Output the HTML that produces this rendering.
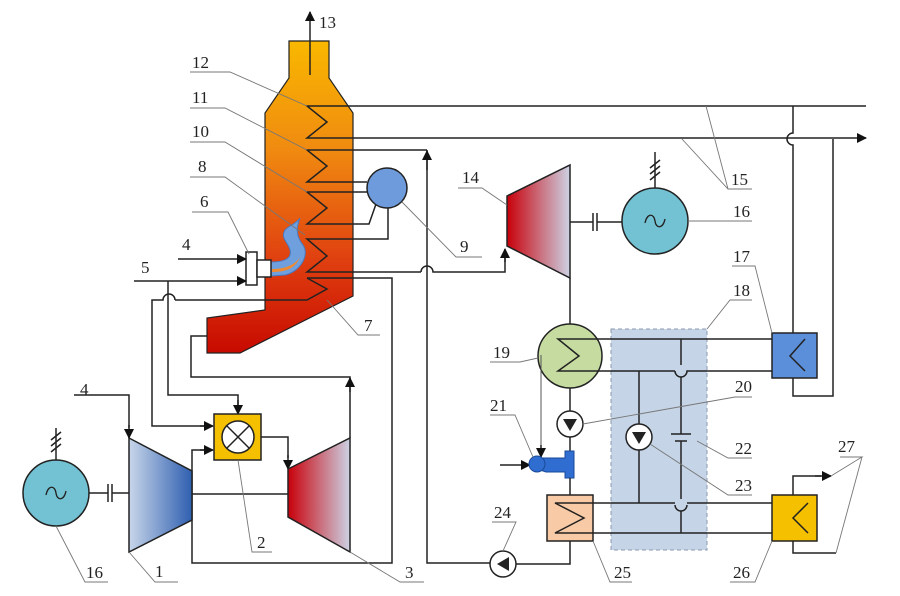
<!DOCTYPE html>
<html><head><meta charset="utf-8"><style>
html,body{margin:0;padding:0;background:#fff;}
svg{display:block;}
text{font-family:"Liberation Serif",serif;font-size:17px;fill:#222;}
</style></head><body>
<svg width="900" height="596" viewBox="0 0 900 596" xmlns="http://www.w3.org/2000/svg">
<defs>
<linearGradient id="boil" x1="0" y1="0" x2="0" y2="1">
<stop offset="0" stop-color="#f9b800"/><stop offset="0.35" stop-color="#f08a10"/><stop offset="0.7" stop-color="#e04010"/><stop offset="1" stop-color="#c80a00"/></linearGradient>
<linearGradient id="comp" x1="0" y1="0" x2="1" y2="0"><stop offset="0" stop-color="#c8d6ea"/><stop offset="1" stop-color="#2f5fb0"/></linearGradient>
<linearGradient id="turb" x1="0" y1="0" x2="1" y2="0"><stop offset="0" stop-color="#c8000a"/><stop offset="1" stop-color="#ccd2e4"/></linearGradient>
<marker id="ar" markerWidth="10" markerHeight="10" refX="9" refY="5" orient="auto" markerUnits="userSpaceOnUse"><path d="M0,0 L10,5 L0,10 z" fill="#111"/></marker>
</defs>
<g fill="none" stroke="#222" stroke-width="1.5">
<path d="M289,41 L329,41 L329,78 L353,113 L353,296 L240,353 L207,353 L207,318 L265,310 L265,113 L289,78 Z" fill="url(#boil)" stroke="#222" stroke-width="1.2"/>
<path d="M271,262 C285,262 292,258 290,250 C288,242 280,238 285,230 C288,226 296,224 300,218 C296,228 296,236 303,245 C310,255 300,272 285,275 L271,276 Z" fill="#6f9fdc" stroke="#4a78c0" stroke-width="1"/>
<path d="M272,269 C285,269 295,265 300,257 C296,267 288,272 272,272 Z" fill="#f08a30" stroke="none"/>
<rect x="246" y="252" width="11" height="33" fill="#fff"/>
<rect x="257" y="260" width="14" height="17" fill="#fff"/>
<line x1="310" y1="75" x2="310" y2="12" marker-end="url(#ar)"/>
<polyline points="866,106 307,106 327,122 307,138 856,138" />
<line x1="856" y1="138" x2="866" y2="138" marker-end="url(#ar)"/>
<polyline points="427,150 307,150 327,166 307,182 367,182"/>
<polyline points="367,192 307,192 327,208 307,224 369,224 376,204"/>
<polyline points="388,208 388,239 307,239 327,256 307,272 421,272"/>
<path d="M421,272 A6,6 0 0 1 433,272 L505,272 L505,252" />
<line x1="505" y1="262" x2="505" y2="249" marker-end="url(#ar)"/>
<polyline points="307,278 327,289 307,300 175,300"/>
<path d="M175,300 A6,6 0 0 0 163,300 L152,300 L152,426 L205,426"/>
<line x1="200" y1="426" x2="213" y2="426" marker-end="url(#ar)"/>
<polyline points="307,278 392,278 392,563 192,563 192,450 205,450"/>
<line x1="200" y1="450" x2="213" y2="450" marker-end="url(#ar)"/>
<circle cx="387" cy="188" r="20" fill="#6e9bdc"/>
<polyline points="427,150 427,563 490,563"/>
<line x1="427" y1="170" x2="427" y2="151" marker-end="url(#ar)"/>
<line x1="178" y1="259" x2="246" y2="259" marker-end="url(#ar)"/>
<line x1="134" y1="281" x2="246" y2="281" marker-end="url(#ar)"/>
<polyline points="168,281 168,395 238,395 238,405"/>
<line x1="238" y1="400" x2="238" y2="414" marker-end="url(#ar)"/>
<rect x="214" y="414" width="47" height="46" fill="#f5c000"/>
<circle cx="238" cy="437" r="16" fill="#fff"/>
<line x1="227" y1="426" x2="249" y2="448"/><line x1="249" y1="426" x2="227" y2="448"/>
<polyline points="261,437 288,437 288,458"/>
<line x1="288" y1="455" x2="288" y2="469" marker-end="url(#ar)"/>
<polygon points="129,438 192,471 192,520 129,552" fill="url(#comp)"/>
<polyline points="74,395 129,395 129,428"/>
<line x1="129" y1="425" x2="129" y2="438" marker-end="url(#ar)"/>
<polygon points="288,469 350,438 350,552 288,517" fill="url(#turb)"/>
<line x1="192" y1="494" x2="288" y2="494"/>
<polyline points="350,438 350,377 191,377 191,336 207,336"/>
<line x1="350" y1="392" x2="350" y2="378" marker-end="url(#ar)"/>
<circle cx="56" cy="493" r="33" fill="#73c2d3"/>
<path d="M46,495 C48,485 55,485 56,493 C57,501 64,501 66,491" stroke-width="1.3"/>
<line x1="56" y1="460" x2="56" y2="428"/>
<line x1="51" y1="446" x2="61" y2="438"/><line x1="51" y1="440" x2="61" y2="432"/><line x1="51" y1="452" x2="61" y2="444"/>
<line x1="89" y1="493" x2="108" y2="493"/><line x1="112" y1="493" x2="129" y2="493"/>
<line x1="108" y1="484" x2="108" y2="502"/><line x1="112" y1="484" x2="112" y2="502"/>
<polygon points="507,196 570,165 570,278 507,246" fill="url(#turb)"/>
<line x1="570" y1="222" x2="593" y2="222"/><line x1="597" y1="222" x2="622" y2="222"/>
<line x1="593" y1="213" x2="593" y2="231"/><line x1="597" y1="213" x2="597" y2="231"/>
<circle cx="655" cy="221" r="33" fill="#73c2d3"/>
<path d="M645,223 C647,213 654,213 655,221 C656,229 663,229 665,219" stroke-width="1.3"/>
<line x1="655" y1="188" x2="655" y2="152"/>
<line x1="650" y1="174" x2="660" y2="166"/><line x1="650" y1="168" x2="660" y2="160"/><line x1="650" y1="180" x2="660" y2="172"/>
<line x1="570" y1="278" x2="570" y2="324"/>
<rect x="611" y="329" width="96" height="221" fill="#c5d4e6" stroke="#8a9ab0" stroke-width="1" stroke-dasharray="4,3"/>
<circle cx="570" cy="356" r="32" fill="#c5dba0"/>
<polyline points="805,339 558,339 579,356 558,371 675,371"/>
<path d="M675,371 A6,6 0 0 0 687,371 L805,371"/>
<line x1="681" y1="339" x2="681" y2="365"/>
<line x1="681" y1="377" x2="681" y2="434"/>
<line x1="681" y1="441" x2="681" y2="499"/>
<line x1="681" y1="511" x2="681" y2="533"/>
<line x1="671" y1="434" x2="691" y2="434"/><line x1="675" y1="441" x2="687" y2="441"/>
<line x1="639" y1="371" x2="639" y2="503"/>
<circle cx="639" cy="437" r="13" fill="#fff"/>
<polygon points="632,432 646,432 639,444" fill="#222" stroke="none"/>
<rect x="772" y="333" width="45" height="45" fill="#5b8fd9"/>
<polyline points="805,339 790,356 805,371"/>
<path d="M793,106 L793,133 A6,6 0 0 0 793,145 L793,333"/>
<polyline points="793,378 793,396 833,396 833,139"/>
<line x1="570" y1="388" x2="570" y2="411"/>
<circle cx="570" cy="424" r="13" fill="#fff"/>
<polygon points="563,419 577,419 570,431" fill="#222" stroke="none"/>
<line x1="570" y1="437" x2="570" y2="452"/>
<line x1="541" y1="355" x2="541" y2="452" stroke="#555" stroke-width="1"/>
<line x1="541" y1="445" x2="541" y2="457" marker-end="url(#ar)"/>
<line x1="500" y1="465" x2="530" y2="465" marker-end="url(#ar)"/>
<path d="M536,458 L565,458 L565,451 L574,451 L574,478 L565,478 L565,472 L546,472 L540,470" fill="#2f6ed0" stroke="#1a4a9a" stroke-width="1"/>
<circle cx="537" cy="464" r="8" fill="#2f6ed0" stroke="#1a4a9a" stroke-width="1"/>
<line x1="570" y1="478" x2="570" y2="495"/>
<rect x="547" y="495" width="46" height="46" fill="#f8cba6"/>
<polyline points="633,503 555,503 584,518 555,533 808,533"/>
<line x1="633" y1="503" x2="675" y2="503"/>
<path d="M675,505 A6,6 0 0 0 687,505"/>
<line x1="687" y1="503" x2="808" y2="503"/>
<polyline points="570,541 570,564 516,564"/>
<circle cx="503" cy="564" r="13" fill="#fff"/>
<polygon points="497,564 509,557 509,571" fill="#222" stroke="none"/>
<rect x="772" y="495" width="45" height="46" fill="#f5c000"/>
<polyline points="808,503 793,518 808,533"/>
<polyline points="793,495 793,476 821,476"/>
<line x1="815" y1="476" x2="831" y2="476" marker-end="url(#ar)"/>
<polyline points="793,541 793,553 836,553"/>
</g>
<g stroke="#777" stroke-width="0.9" fill="none">
<polyline points="190,72 230,72 307,106"/>
<polyline points="190,108 225,108 307,150"/>
<polyline points="190,142 225,142 307,192"/>
<polyline points="190,177 225,177 305,235"/>
<polyline points="192,212 228,212 249,254"/>
<polyline points="327,300 358,335 380,335"/>
<polyline points="402,202 456,257 482,257"/>
<polyline points="458,188 482,188 507,205"/>
<polyline points="682,139 728,189 752,189"/><line x1="706" y1="106" x2="728" y2="189"/>
<polyline points="688,221 752,221"/>
<polyline points="772,333 755,266 732,266"/>
<polyline points="707,329 730,300 752,300"/>
<polyline points="538,358 520,362 490,362"/>
<polyline points="583,424 735,397 752,397"/>
<polyline points="533,457 515,415 490,415"/>
<polyline points="697,441 728,458 752,458"/>
<polyline points="650,444 728,495 752,495"/>
<polyline points="503,551 516,522 492,522"/>
<polyline points="593,541 610,582 632,582"/>
<polyline points="772,541 755,582 730,582"/>
<polyline points="831,476 862,457 840,457"/><line x1="836" y1="553" x2="862" y2="457"/>
<polyline points="129,552 155,582 178,582"/>
<polyline points="238,460 252,552 272,552"/>
<polyline points="350,552 400,582 424,582"/>
<polyline points="56,526 85,582 108,582"/>
</g>
<text x="319" y="28">13</text>
<text x="192" y="68">12</text>
<text x="192" y="103">11</text>
<text x="192" y="137">10</text>
<text x="198" y="172">8</text>
<text x="200" y="207">6</text>
<text x="182" y="250">4</text>
<text x="141" y="273">5</text>
<text x="364" y="331">7</text>
<text x="460" y="252">9</text>
<text x="462" y="183">14</text>
<text x="731" y="185">15</text>
<text x="733" y="217">16</text>
<text x="733" y="262">17</text>
<text x="733" y="296">18</text>
<text x="493" y="358">19</text>
<text x="735" y="392">20</text>
<text x="490" y="411">21</text>
<text x="735" y="454">22</text>
<text x="735" y="491">23</text>
<text x="494" y="518">24</text>
<text x="614" y="578">25</text>
<text x="733" y="578">26</text>
<text x="838" y="452">27</text>
<text x="80" y="395">4</text>
<text x="155" y="577">1</text>
<text x="257" y="548">2</text>
<text x="405" y="578">3</text>
<text x="86" y="578">16</text>
</svg>
</body></html>
